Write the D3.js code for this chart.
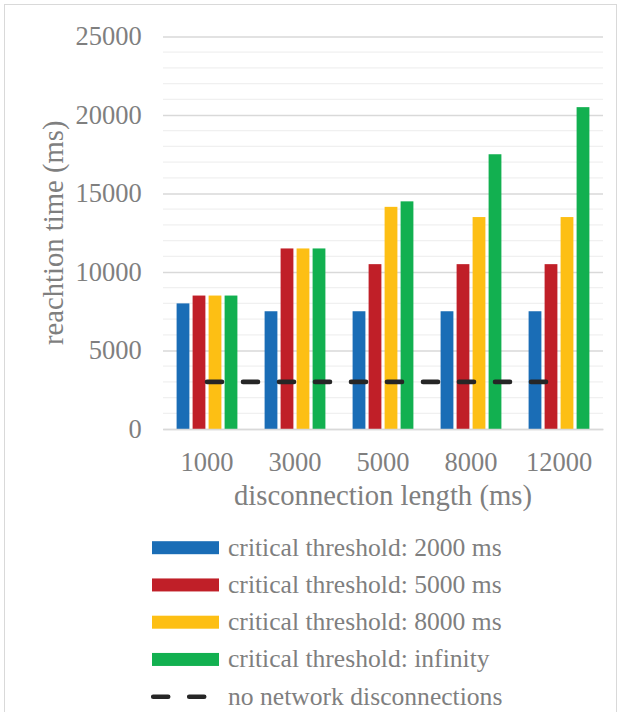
<!DOCTYPE html>
<html>
<head>
<meta charset="utf-8">
<script src="https://cdn.jsdelivr.net/npm/d3@7"></script>
<style>
  body { margin: 0; background: #fff; }
  svg text { font-family: "Liberation Serif", serif; fill: #7f7f7f; }
</style>
</head>
<body>
<div id="chart"></div>
<script>
// chart data
var lengths = ["1000", "3000", "5000", "8000", "12000"];
var seriesNames = [
  "critical threshold: 2000 ms",
  "critical threshold: 5000 ms",
  "critical threshold: 8000 ms",
  "critical threshold: infinity"
];
var t2000 = [8000, 7500, 7500, 7500, 7500];
var t5000 = [8500, 11500, 10500, 10500, 10500];
var t8000 = [8500, 11500, 14150, 13500, 13500];
var tInf = [8500, 11500, 14500, 17500, 20500];
var baseline = [3000, 3000, 3000, 3000, 3000];
var baselineName = "no network disconnections";
var yTicks = [0, 5000, 10000, 15000, 20000, 25000];

var colors = ["#1a6db6", "#c01f28", "#fdbf14", "#12b050"];

var svgWidth = 626;
var svgHeight = 712;

var margin = { top: 36.5, right: 23, bottom: 283, left: 163 };
var width = svgWidth - margin.left - margin.right;
var height = svgHeight - margin.top - margin.bottom;

var svg = d3.select("#chart")
  .append("svg")
  .attr("width", svgWidth)
  .attr("height", svgHeight);

// outer chart border
svg.append("rect")
  .attr("x", 4.5)
  .attr("y", 4.5)
  .attr("width", 612)
  .attr("height", 740)
  .attr("fill", "none")
  .attr("stroke", "#d9d9d9");

var chartGroup = svg.append("g")
  .attr("transform", `translate(${margin.left}, ${margin.top})`);

var yScale = d3.scaleLinear().domain([0, 25000]).range([height, 0]);

var x0 = d3.scaleBand().domain(lengths).range([0, width]).padding(0);
var x1 = d3.scaleBand()
  .domain(d3.range(seriesNames.length))
  .range([0, x0.bandwidth()])
  .paddingInner(0.2)
  .paddingOuter(0.85);

// minor gridlines
chartGroup.append("g")
  .selectAll("line")
  .data(d3.range(1000, 25000, 1000).filter(v => v % 5000 !== 0))
  .enter()
  .append("line")
  .attr("x1", 0)
  .attr("x2", width)
  .attr("y1", d => yScale(d))
  .attr("y2", d => yScale(d))
  .attr("stroke", "#f0f0f0")
  .attr("stroke-width", 1.2);

// y axis with major gridlines
var leftAxis = d3.axisLeft(yScale)
  .tickValues(yTicks)
  .tickSize(-width)
  .tickPadding(21.3)
  .tickFormat(d3.format("d"));

var yAxis = chartGroup.append("g").call(leftAxis);
yAxis.select(".domain").remove();
yAxis.selectAll(".tick line").attr("stroke", "#d9d9d9").attr("stroke-width", 1.3);
yAxis.selectAll(".tick text")
  .attr("font-size", "26.5px")
  .attr("fill", "#7f7f7f");

// bars
var allSeries = [t2000, t5000, t8000, tInf];
var groups = chartGroup.selectAll(".grp")
  .data(lengths)
  .enter()
  .append("g")
  .attr("class", "grp")
  .attr("transform", d => `translate(${x0(d)}, 0)`);

groups.selectAll("rect")
  .data((d, i) => allSeries.map((s, j) => ({ s: j, v: s[i] })))
  .enter()
  .append("rect")
  .attr("x", d => x1(d.s))
  .attr("width", x1.bandwidth())
  .attr("y", d => yScale(d.v))
  .attr("height", d => height - yScale(d.v))
  .attr("fill", d => colors[d.s]);

// baseline dashed line
var line = d3.line()
  .x((d, i) => x0(lengths[i]) + x0.bandwidth() / 2)
  .y(d => yScale(d));

chartGroup.append("path")
  .datum(baseline)
  .attr("d", line)
  .attr("fill", "none")
  .attr("stroke", "#262626")
  .attr("stroke-width", 4.6)
  .attr("stroke-linecap", "round")
  .attr("stroke-dasharray", "15,21");

// x axis labels
var bottomAxis = d3.axisBottom(x0).tickSize(0).tickPadding(23.5);
var xAxis = chartGroup.append("g")
  .attr("transform", `translate(0, ${height})`)
  .call(bottomAxis);
xAxis.select(".domain").attr("stroke", "#d9d9d9").attr("stroke-width", 1.3);
xAxis.selectAll(".tick text")
  .attr("font-size", "26.5px")
  .attr("fill", "#7f7f7f");

// axis titles
chartGroup.append("text")
  .attr("x", width / 2)
  .attr("y", height + 76)
  .attr("text-anchor", "middle")
  .attr("font-size", "28.7px")
  .text("disconnection length (ms)");

chartGroup.append("text")
  .attr("transform", "rotate(-90)")
  .attr("x", -height / 2)
  .attr("y", -margin.left + 63)
  .attr("text-anchor", "middle")
  .attr("font-size", "28.7px")
  .text("reachtion time (ms)");

// legend
var legendNames = seriesNames.concat([baselineName]);
var legend = svg.append("g").attr("transform", "translate(152, 547.7)");
var rows = legend.selectAll("g")
  .data(legendNames)
  .enter()
  .append("g")
  .attr("transform", (d, i) => `translate(0, ${i * 37.25})`);

rows.filter((d, i) => i < 4)
  .append("rect")
  .attr("x", 0)
  .attr("y", -6.5)
  .attr("width", 67)
  .attr("height", 13)
  .attr("fill", (d, i) => colors[i]);

rows.filter((d, i) => i === 4)
  .append("line")
  .attr("x1", 1.2)
  .attr("x2", 54)
  .attr("y1", 0)
  .attr("y2", 0)
  .attr("stroke", "#262626")
  .attr("stroke-width", 4.6)
  .attr("stroke-linecap", "round")
  .attr("stroke-dasharray", "15,21");

rows.append("text")
  .attr("x", 76)
  .attr("y", 8)
  .attr("font-size", "25.6px")
  .text(d => d);
</script>
</body>
</html>
